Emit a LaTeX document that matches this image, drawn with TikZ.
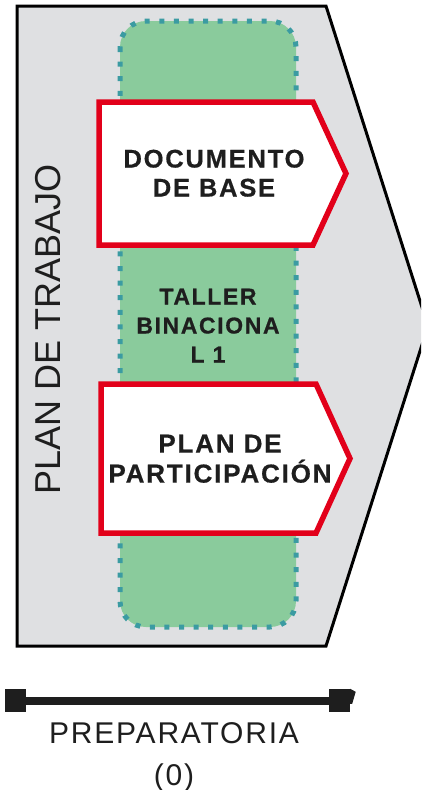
\documentclass[tikz,border=0pt]{standalone}
\usepackage{fontspec}
\setmainfont{Liberation Sans}
\newfontfamily\spacedbold{Liberation Sans}[LetterSpace=7, FakeBold=0.6]
\newfontfamily\spacedreg{Liberation Sans}[LetterSpace=6]
\definecolor{panelgray}{HTML}{DFE0E2}
\definecolor{tallergreen}{HTML}{8ACB9C}
\definecolor{dotteal}{HTML}{3B9BA2}
\definecolor{stepred}{HTML}{E2001A}
\definecolor{inkdark}{HTML}{1E1E1E}
\tikzset{
  outerframe/.style={fill=panelgray, draw=black, line width=3pt, line join=miter},
  tallerbox/.style={fill=tallergreen, draw=dotteal, line width=5pt, dash pattern=on 5pt off 9.6pt, line cap=butt, rounded corners=26pt},
  redarrow/.style={fill=white, draw=stepred, line width=5.5pt, line join=miter},
  boldlabel/.style={inner sep=0pt, align=center, text=inkdark, anchor=north},
  barsq/.style={fill=inkdark, draw=none, minimum width=21pt, minimum height=23pt, inner sep=0pt},
}
\begin{document}
\begin{tikzpicture}[x=1pt,y=-1pt]
\useasboundingbox (0,0) rectangle (421,790);
\clip (0,0) rectangle (421,790);
% outer pentagon
\draw[outerframe] (17,6) -- (326,6) -- (428,326) -- (326,646) -- (17,646) -- cycle;
% green taller box
\draw[tallerbox] (120,21) rectangle (296,627);
% red arrows
\draw[redarrow] (99,102) -- (313,102) -- (346,173.5) -- (313,245) -- (99,245) -- cycle;
\draw[redarrow] (101,384) -- (316,384) -- (350,458.5) -- (316,533) -- (101,533) -- cycle;
% texts
\node[boldlabel, font={\spacedbold\bfseries\fontsize{25.5}{29}\selectfont}] (doc) at (214,149.5) {DOCUMENTO\\DE BASE};
\node[boldlabel, font={\spacedbold\bfseries\fontsize{23}{29}\selectfont}] (taller) at (208,288.5) {TALLER\\BINACIONA\\L 1};
\node[boldlabel, font={\spacedbold\bfseries\fontsize{26}{30}\selectfont}] (plan) at (220,434.5) {PLAN DE\\PARTICIPACIÓN};
\node[inner sep=0pt, rotate=90, text=inkdark, font=\fontsize{36}{40}\selectfont] (trabajo) at (48,329) {PLAN DE TRABAJO};
% timeline bar
\node[barsq] (lsq) at (15.5,700.5) {};
\node[barsq] (rsq) at (339.5,700.5) {};
\draw[inkdark, line width=8pt] (lsq.center) -- (rsq.center);
\fill[inkdark] (rsq.north east) -- ++(5.5,3) -- ++(-3.5,12) -- ++(-2,0) -- cycle;
\node[boldlabel, font={\spacedreg\fontsize{30}{42}\selectfont}] (prep) at (174,722) {PREPARATORIA\\(0)};
\end{tikzpicture}
\end{document}
